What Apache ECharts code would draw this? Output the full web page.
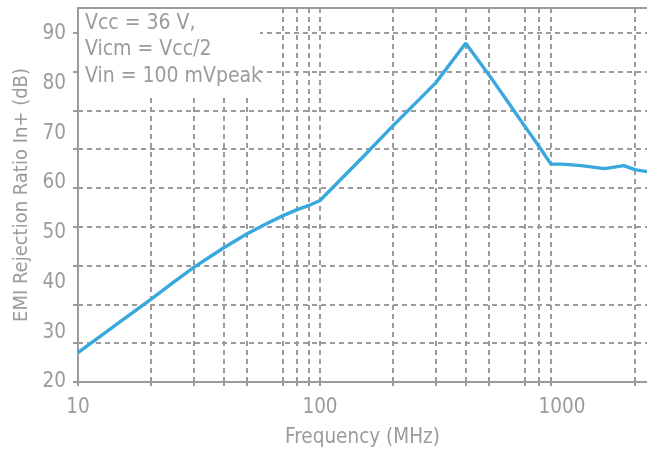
<!DOCTYPE html>
<html>
<head>
<meta charset="utf-8">
<script src="https://cdn.jsdelivr.net/npm/echarts@6/dist/echarts.min.js"></script>
<style>
html,body{margin:0;padding:0;background:#fff;}
#c{width:647px;height:453px;}
</style>
</head>
<body>
<div id="c"></div>
<script>
// Frequency (MHz)
var freq = [10, 15, 20, 25, 30, 40, 50, 60, 70, 80, 90, 100, 150, 200, 300, 400, 500, 600, 700, 800, 900, 1000, 1200, 1500, 1800, 2000, 2245];
// EMI Rejection Ratio In+ (dB)
var emirr = [25.9, 32.2, 36.6, 40.2, 43.0, 47.0, 49.8, 51.8, 53.4, 54.6, 55.5, 56.5, 65.2, 71.5, 80.1, 88.1, 81.7, 76.2, 71.5, 67.5, 63.8, 63.8, 63.5, 62.9, 63.5, 62.7, 62.3];
// axis tick labels and grid positions
var xLabels = [10, 100, 1000];
var xGrid = [10, 20, 30, 40, 50, 70, 80, 90, 100, 200, 300, 400, 500, 700, 800, 900, 2000];
var yLabels = [20, 30, 40, 50, 60, 70, 80, 90];
var yGrid = [20, 27.8, 35.6, 43.4, 51.2, 59, 66.8, 74.6, 82.4, 90.2];
var noteLines = ['Vcc = 36 V,', 'Vicm = Vcc/2', 'Vin = 100 mVpeak'];

var FONT = '"DejaVu Sans Condensed", "Liberation Sans Narrow", "Liberation Sans", sans-serif';
var GRAY = '#9b9b9b';

var data = freq.map(function (f, i) { return [f, emirr[i]]; });

var chart = echarts.init(document.getElementById('c'), null, {renderer: 'canvas'});
chart.setOption({
  animation: false,
  backgroundColor: '#fff',
  grid: {left: 78, top: 8, right: 0, bottom: 69, containLabel: false},
  xAxis: [{
    type: 'log', logBase: 10, min: 10, max: 2245,
    name: 'Frequency (MHz)', nameLocation: 'middle', nameGap: 45,
    nameTextStyle: {fontFamily: FONT, fontSize: 20.5, color: GRAY},
    axisLine: {lineStyle: {color: GRAY, width: 2}},
    axisTick: {show: true, customValues: xGrid, length: 4, lineStyle: {color: GRAY, width: 2}},
    axisLabel: {customValues: xLabels, fontFamily: FONT, fontSize: 20.5, color: GRAY, margin: 15,
      formatter: function (v) { return String(Math.round(v)); }},
    splitLine: {show: true, lineStyle: {color: GRAY, width: 2, type: [5, 4]}},
    minorTick: {show: false}, minorSplitLine: {show: false}
  }, {
    type: 'log', logBase: 10, min: 10, max: 2245, position: 'top',
    axisLine: {show: true, onZero: false, lineStyle: {color: GRAY, width: 2}},
    axisTick: {show: false}, axisLabel: {show: false}, splitLine: {show: false}
  }],
  yAxis: {
    type: 'value', min: 20, max: 95.2,
    name: 'EMI Rejection Ratio In+ (dB)', nameLocation: 'middle', nameGap: 43,
    nameTextStyle: {fontFamily: FONT, fontSize: 20, color: GRAY},
    axisLine: {show: true, lineStyle: {color: GRAY, width: 2}},
    axisTick: {show: true, customValues: yGrid, length: 5, lineStyle: {color: GRAY, width: 2}},
    axisLabel: {customValues: yLabels, fontFamily: FONT, fontSize: 20.5, color: GRAY, margin: 12},
    splitLine: {show: true, lineStyle: {color: GRAY, width: 2, type: [5, 4]}}
  },
  graphic: [{
    type: 'rect', z: 50,
    shape: {x: 79, y: 9, width: 181, height: 88},
    style: {fill: '#fff'}
  }, {
    type: 'text', z: 51, left: 85, top: 10,
    style: {text: noteLines.join('\n'), fontFamily: FONT, fontSize: 21, lineHeight: 26.5, fill: GRAY}
  }],
  series: [{
    type: 'line', data: data, showSymbol: false, smooth: false,
    lineStyle: {color: '#38a8dd', width: 3.4},
    z: 10
  }]
});
</script>
</body>
</html>
